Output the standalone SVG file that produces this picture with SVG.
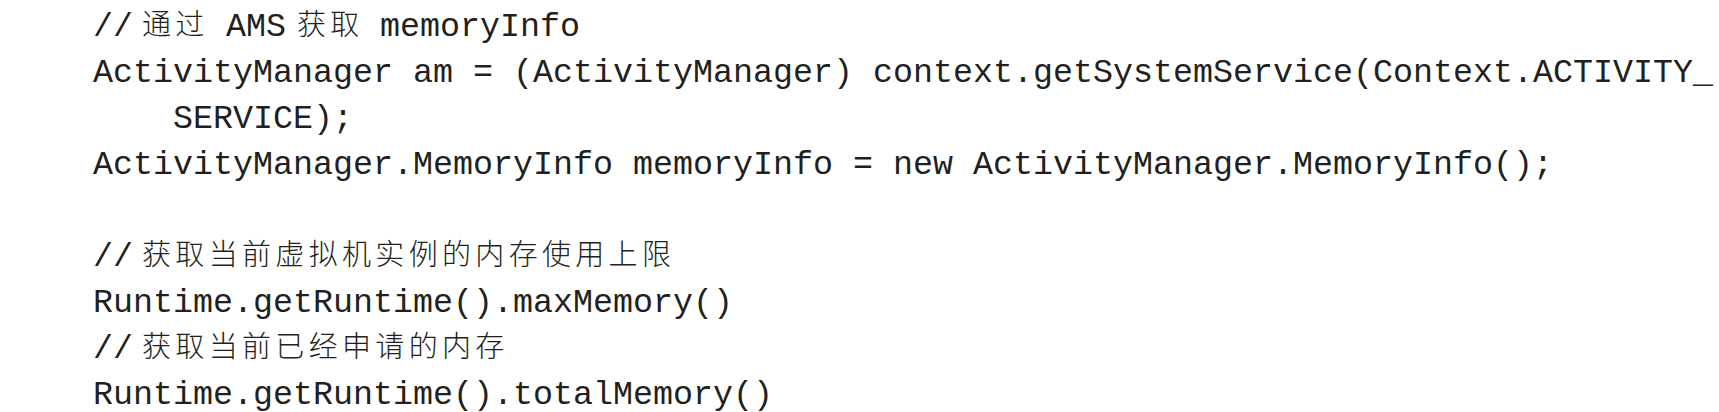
<svg xmlns="http://www.w3.org/2000/svg" width="1719" height="412" viewBox="0 0 1719 412">
<style>
.code{font-family:"Liberation Mono","DejaVu Sans Mono",monospace;font-size:33.33px;fill:#231f20;}
.cjk{font-family:"Noto Sans CJK SC","Noto Sans CJK JP",sans-serif;font-size:29px;letter-spacing:4.33px;font-weight:300;fill:#231f20;}
</style>
<rect width="1719" height="412" fill="#ffffff"/>
<g id="code">
<text class="code" x="93" y="35.5">//</text>
<text class="cjk" x="142" y="34.5">通过</text>
<text class="code" x="226" y="35.5">AMS</text>
<text class="cjk" x="297" y="34.5">获取</text>
<text class="code" x="380" y="35.5">memoryInfo</text>
<text class="code" x="93" y="81.5">ActivityManager am = (ActivityManager) context.getSystemService(Context.ACTIVITY_</text>
<text class="code" x="173" y="127.5">SERVICE);</text>
<text class="code" x="93" y="173.5">ActivityManager.MemoryInfo memoryInfo = new ActivityManager.MemoryInfo();</text>
<text class="code" x="93" y="265.5">//</text>
<text class="cjk" x="142" y="264.5">获取当前虚拟机实例的内存使用上限</text>
<text class="code" x="93" y="311.5">Runtime.getRuntime().maxMemory()</text>
<text class="code" x="93" y="357.5">//</text>
<text class="cjk" x="142" y="356.5">获取当前已经申请的内存</text>
<text class="code" x="93" y="403.5">Runtime.getRuntime().totalMemory()</text>
</g>
</svg>
